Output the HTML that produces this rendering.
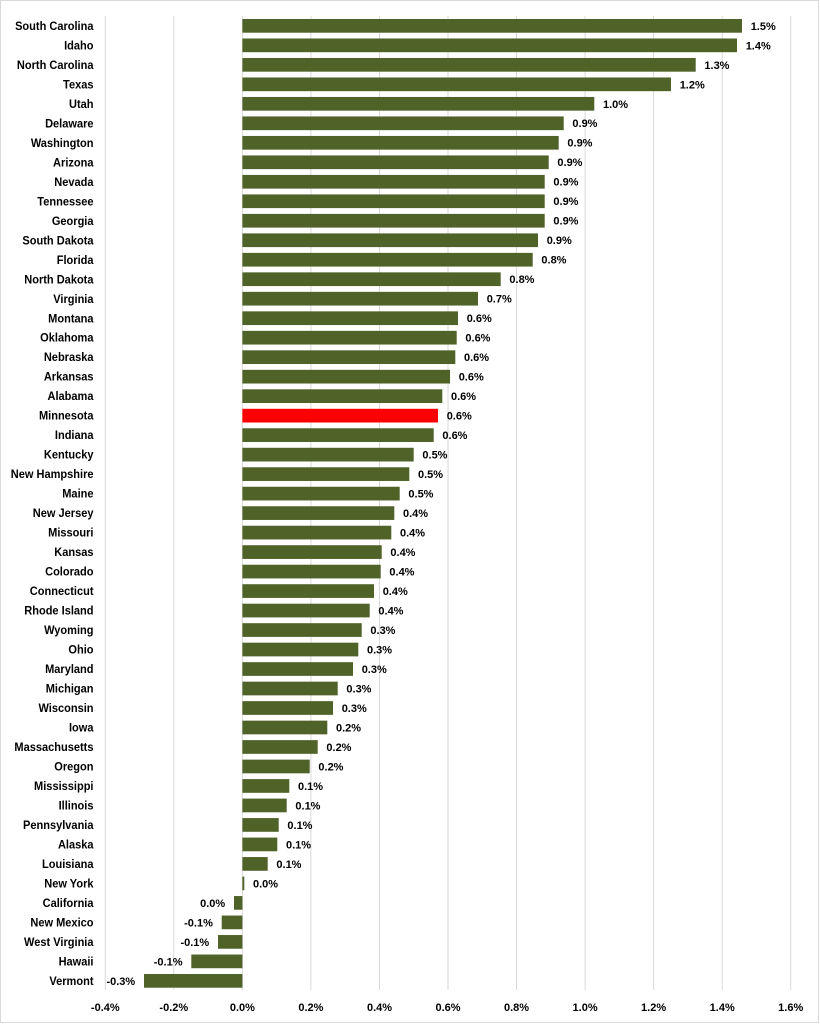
<!DOCTYPE html>
<html>
<head>
<meta charset="utf-8">
<style>
  html, body { margin: 0; padding: 0; background: #fff; }
  svg { display: block; }
  .c { font-family: "Liberation Sans", Arial, sans-serif; font-weight: bold; font-size: 12px; fill: #000; text-anchor: end; }
  .v { font-family: "Liberation Sans", Arial, sans-serif; font-weight: bold; font-size: 11px; fill: #000; }
  .n { text-anchor: end; }
  .ax { font-family: "Liberation Sans", Arial, sans-serif; font-weight: bold; font-size: 11px; fill: #000; text-anchor: middle; }
  .b { fill: #4F6228; }
  .r { fill: #FF0000; }
  .g { stroke: #d9d9d9; stroke-width: 1; }
</style>
</head>
<body>
<svg width="820" height="1024" viewBox="0 0 820 1024" xmlns="http://www.w3.org/2000/svg">
  <rect x="0" y="0" width="820" height="1024" fill="#fff"/>
  <rect x="0.5" y="0.5" width="818" height="1022" fill="none" stroke="#d9d9d9" stroke-width="1"/>

  <!-- gridlines -->
  <g class="g">
    <line x1="105.3" y1="16" x2="105.3" y2="990"/>
    <line x1="173.8" y1="16" x2="173.8" y2="990"/>
    <line x1="242.4" y1="16" x2="242.4" y2="990"/>
    <line x1="310.9" y1="16" x2="310.9" y2="990"/>
    <line x1="379.5" y1="16" x2="379.5" y2="990"/>
    <line x1="448" y1="16" x2="448" y2="990"/>
    <line x1="516.5" y1="16" x2="516.5" y2="990"/>
    <line x1="585.1" y1="16" x2="585.1" y2="990"/>
    <line x1="653.6" y1="16" x2="653.6" y2="990"/>
    <line x1="722.2" y1="16" x2="722.2" y2="990"/>
    <line x1="790.7" y1="16" x2="790.7" y2="990"/>
  </g>

  <!-- x axis labels -->
  <text class="ax" x="105.3" y="1011">-0.4%</text>
  <text class="ax" x="173.8" y="1011">-0.2%</text>
  <text class="ax" x="242.4" y="1011">0.0%</text>
  <text class="ax" x="310.9" y="1011">0.2%</text>
  <text class="ax" x="379.5" y="1011">0.4%</text>
  <text class="ax" x="448" y="1011">0.6%</text>
  <text class="ax" x="516.5" y="1011">0.8%</text>
  <text class="ax" x="585.1" y="1011">1.0%</text>
  <text class="ax" x="653.6" y="1011">1.2%</text>
  <text class="ax" x="722.2" y="1011">1.4%</text>
  <text class="ax" x="790.7" y="1011">1.6%</text>

  <!-- rows -->
  <g transform="translate(0,19)"><text class="c" transform="translate(93.5,10.9) scale(0.92,1)">South Carolina</text><rect class="b" x="242.4" y="0" width="499.6" height="13.7"/><text class="v" x="750.7" y="10.8">1.5%</text></g>
  <g transform="translate(0,38.49)"><text class="c" transform="translate(93.5,10.9) scale(0.92,1)">Idaho</text><rect class="b" x="242.4" y="0" width="494.6" height="13.7"/><text class="v" x="745.7" y="10.8">1.4%</text></g>
  <g transform="translate(0,57.98)"><text class="c" transform="translate(93.5,10.9) scale(0.92,1)">North Carolina</text><rect class="b" x="242.4" y="0" width="453.3" height="13.7"/><text class="v" x="704.4" y="10.8">1.3%</text></g>
  <g transform="translate(0,77.47)"><text class="c" transform="translate(93.5,10.9) scale(0.92,1)">Texas</text><rect class="b" x="242.4" y="0" width="428.6" height="13.7"/><text class="v" x="679.7" y="10.8">1.2%</text></g>
  <g transform="translate(0,96.96)"><text class="c" transform="translate(93.5,10.9) scale(0.92,1)">Utah</text><rect class="b" x="242.4" y="0" width="351.9" height="13.7"/><text class="v" x="603" y="10.8">1.0%</text></g>
  <g transform="translate(0,116.45)"><text class="c" transform="translate(93.5,10.9) scale(0.92,1)">Delaware</text><rect class="b" x="242.4" y="0" width="321.3" height="13.7"/><text class="v" x="572.4" y="10.8">0.9%</text></g>
  <g transform="translate(0,135.94)"><text class="c" transform="translate(93.5,10.9) scale(0.92,1)">Washington</text><rect class="b" x="242.4" y="0" width="316.3" height="13.7"/><text class="v" x="567.4" y="10.8">0.9%</text></g>
  <g transform="translate(0,155.43)"><text class="c" transform="translate(93.5,10.9) scale(0.92,1)">Arizona</text><rect class="b" x="242.4" y="0" width="306.3" height="13.7"/><text class="v" x="557.4" y="10.8">0.9%</text></g>
  <g transform="translate(0,174.92)"><text class="c" transform="translate(93.5,10.9) scale(0.92,1)">Nevada</text><rect class="b" x="242.4" y="0" width="302.3" height="13.7"/><text class="v" x="553.4" y="10.8">0.9%</text></g>
  <g transform="translate(0,194.41)"><text class="c" transform="translate(93.5,10.9) scale(0.92,1)">Tennessee</text><rect class="b" x="242.4" y="0" width="302.3" height="13.7"/><text class="v" x="553.4" y="10.8">0.9%</text></g>
  <g transform="translate(0,213.9)"><text class="c" transform="translate(93.5,10.9) scale(0.92,1)">Georgia</text><rect class="b" x="242.4" y="0" width="302.3" height="13.7"/><text class="v" x="553.4" y="10.8">0.9%</text></g>
  <g transform="translate(0,233.39)"><text class="c" transform="translate(93.5,10.9) scale(0.92,1)">South Dakota</text><rect class="b" x="242.4" y="0" width="295.6" height="13.7"/><text class="v" x="546.7" y="10.8">0.9%</text></g>
  <g transform="translate(0,252.88)"><text class="c" transform="translate(93.5,10.9) scale(0.92,1)">Florida</text><rect class="b" x="242.4" y="0" width="290.3" height="13.7"/><text class="v" x="541.4" y="10.8">0.8%</text></g>
  <g transform="translate(0,272.37)"><text class="c" transform="translate(93.5,10.9) scale(0.92,1)">North Dakota</text><rect class="b" x="242.4" y="0" width="258.3" height="13.7"/><text class="v" x="509.4" y="10.8">0.8%</text></g>
  <g transform="translate(0,291.86)"><text class="c" transform="translate(93.5,10.9) scale(0.92,1)">Virginia</text><rect class="b" x="242.4" y="0" width="235.6" height="13.7"/><text class="v" x="486.7" y="10.8">0.7%</text></g>
  <g transform="translate(0,311.35)"><text class="c" transform="translate(93.5,10.9) scale(0.92,1)">Montana</text><rect class="b" x="242.4" y="0" width="215.6" height="13.7"/><text class="v" x="466.7" y="10.8">0.6%</text></g>
  <g transform="translate(0,330.84)"><text class="c" transform="translate(93.5,10.9) scale(0.92,1)">Oklahoma</text><rect class="b" x="242.4" y="0" width="214.3" height="13.7"/><text class="v" x="465.4" y="10.8">0.6%</text></g>
  <g transform="translate(0,350.33)"><text class="c" transform="translate(93.5,10.9) scale(0.92,1)">Nebraska</text><rect class="b" x="242.4" y="0" width="212.9" height="13.7"/><text class="v" x="464" y="10.8">0.6%</text></g>
  <g transform="translate(0,369.82)"><text class="c" transform="translate(93.5,10.9) scale(0.92,1)">Arkansas</text><rect class="b" x="242.4" y="0" width="207.6" height="13.7"/><text class="v" x="458.7" y="10.8">0.6%</text></g>
  <g transform="translate(0,389.31)"><text class="c" transform="translate(93.5,10.9) scale(0.92,1)">Alabama</text><rect class="b" x="242.4" y="0" width="199.9" height="13.7"/><text class="v" x="451" y="10.8">0.6%</text></g>
  <g transform="translate(0,408.8)"><text class="c" transform="translate(93.5,10.9) scale(0.92,1)">Minnesota</text><rect class="r" x="242.4" y="0" width="195.6" height="13.7"/><text class="v" x="446.7" y="10.8">0.6%</text></g>
  <g transform="translate(0,428.29)"><text class="c" transform="translate(93.5,10.9) scale(0.92,1)">Indiana</text><rect class="b" x="242.4" y="0" width="191.3" height="13.7"/><text class="v" x="442.4" y="10.8">0.6%</text></g>
  <g transform="translate(0,447.78)"><text class="c" transform="translate(93.5,10.9) scale(0.92,1)">Kentucky</text><rect class="b" x="242.4" y="0" width="171.3" height="13.7"/><text class="v" x="422.4" y="10.8">0.5%</text></g>
  <g transform="translate(0,467.27)"><text class="c" transform="translate(93.5,10.9) scale(0.92,1)">New Hampshire</text><rect class="b" x="242.4" y="0" width="166.9" height="13.7"/><text class="v" x="418" y="10.8">0.5%</text></g>
  <g transform="translate(0,486.76)"><text class="c" transform="translate(93.5,10.9) scale(0.92,1)">Maine</text><rect class="b" x="242.4" y="0" width="157.3" height="13.7"/><text class="v" x="408.4" y="10.8">0.5%</text></g>
  <g transform="translate(0,506.25)"><text class="c" transform="translate(93.5,10.9) scale(0.92,1)">New Jersey</text><rect class="b" x="242.4" y="0" width="151.9" height="13.7"/><text class="v" x="403" y="10.8">0.4%</text></g>
  <g transform="translate(0,525.74)"><text class="c" transform="translate(93.5,10.9) scale(0.92,1)">Missouri</text><rect class="b" x="242.4" y="0" width="148.9" height="13.7"/><text class="v" x="400" y="10.8">0.4%</text></g>
  <g transform="translate(0,545.23)"><text class="c" transform="translate(93.5,10.9) scale(0.92,1)">Kansas</text><rect class="b" x="242.4" y="0" width="139.3" height="13.7"/><text class="v" x="390.4" y="10.8">0.4%</text></g>
  <g transform="translate(0,564.72)"><text class="c" transform="translate(93.5,10.9) scale(0.92,1)">Colorado</text><rect class="b" x="242.4" y="0" width="138.3" height="13.7"/><text class="v" x="389.4" y="10.8">0.4%</text></g>
  <g transform="translate(0,584.21)"><text class="c" transform="translate(93.5,10.9) scale(0.92,1)">Connecticut</text><rect class="b" x="242.4" y="0" width="131.6" height="13.7"/><text class="v" x="382.7" y="10.8">0.4%</text></g>
  <g transform="translate(0,603.7)"><text class="c" transform="translate(93.5,10.9) scale(0.92,1)">Rhode Island</text><rect class="b" x="242.4" y="0" width="127.3" height="13.7"/><text class="v" x="378.4" y="10.8">0.4%</text></g>
  <g transform="translate(0,623.19)"><text class="c" transform="translate(93.5,10.9) scale(0.92,1)">Wyoming</text><rect class="b" x="242.4" y="0" width="119.3" height="13.7"/><text class="v" x="370.4" y="10.8">0.3%</text></g>
  <g transform="translate(0,642.68)"><text class="c" transform="translate(93.5,10.9) scale(0.92,1)">Ohio</text><rect class="b" x="242.4" y="0" width="115.9" height="13.7"/><text class="v" x="367" y="10.8">0.3%</text></g>
  <g transform="translate(0,662.17)"><text class="c" transform="translate(93.5,10.9) scale(0.92,1)">Maryland</text><rect class="b" x="242.4" y="0" width="110.6" height="13.7"/><text class="v" x="361.7" y="10.8">0.3%</text></g>
  <g transform="translate(0,681.66)"><text class="c" transform="translate(93.5,10.9) scale(0.92,1)">Michigan</text><rect class="b" x="242.4" y="0" width="95.3" height="13.7"/><text class="v" x="346.4" y="10.8">0.3%</text></g>
  <g transform="translate(0,701.15)"><text class="c" transform="translate(93.5,10.9) scale(0.92,1)">Wisconsin</text><rect class="b" x="242.4" y="0" width="90.6" height="13.7"/><text class="v" x="341.7" y="10.8">0.3%</text></g>
  <g transform="translate(0,720.64)"><text class="c" transform="translate(93.5,10.9) scale(0.92,1)">Iowa</text><rect class="b" x="242.4" y="0" width="84.9" height="13.7"/><text class="v" x="336" y="10.8">0.2%</text></g>
  <g transform="translate(0,740.13)"><text class="c" transform="translate(93.5,10.9) scale(0.92,1)">Massachusetts</text><rect class="b" x="242.4" y="0" width="75.3" height="13.7"/><text class="v" x="326.4" y="10.8">0.2%</text></g>
  <g transform="translate(0,759.62)"><text class="c" transform="translate(93.5,10.9) scale(0.92,1)">Oregon</text><rect class="b" x="242.4" y="0" width="67.3" height="13.7"/><text class="v" x="318.4" y="10.8">0.2%</text></g>
  <g transform="translate(0,779.11)"><text class="c" transform="translate(93.5,10.9) scale(0.92,1)">Mississippi</text><rect class="b" x="242.4" y="0" width="46.9" height="13.7"/><text class="v" x="298" y="10.8">0.1%</text></g>
  <g transform="translate(0,798.6)"><text class="c" transform="translate(93.5,10.9) scale(0.92,1)">Illinois</text><rect class="b" x="242.4" y="0" width="44.3" height="13.7"/><text class="v" x="295.4" y="10.8">0.1%</text></g>
  <g transform="translate(0,818.09)"><text class="c" transform="translate(93.5,10.9) scale(0.92,1)">Pennsylvania</text><rect class="b" x="242.4" y="0" width="36.3" height="13.7"/><text class="v" x="287.4" y="10.8">0.1%</text></g>
  <g transform="translate(0,837.58)"><text class="c" transform="translate(93.5,10.9) scale(0.92,1)">Alaska</text><rect class="b" x="242.4" y="0" width="34.9" height="13.7"/><text class="v" x="286" y="10.8">0.1%</text></g>
  <g transform="translate(0,857.07)"><text class="c" transform="translate(93.5,10.9) scale(0.92,1)">Louisiana</text><rect class="b" x="242.4" y="0" width="25.3" height="13.7"/><text class="v" x="276.4" y="10.8">0.1%</text></g>
  <g transform="translate(0,876.56)"><text class="c" transform="translate(93.5,10.9) scale(0.92,1)">New York</text><rect class="b" x="242.4" y="0" width="1.9" height="13.7"/><text class="v" x="253" y="10.8">0.0%</text></g>
  <g transform="translate(0,896.05)"><text class="c" transform="translate(93.5,10.9) scale(0.92,1)">California</text><rect class="b" x="234" y="0" width="8.4" height="13.7"/><text class="v n" x="225.2" y="10.8">0.0%</text></g>
  <g transform="translate(0,915.54)"><text class="c" transform="translate(93.5,10.9) scale(0.92,1)">New Mexico</text><rect class="b" x="221.7" y="0" width="20.7" height="13.7"/><text class="v n" x="212.9" y="10.8">-0.1%</text></g>
  <g transform="translate(0,935.03)"><text class="c" transform="translate(93.5,10.9) scale(0.92,1)">West Virginia</text><rect class="b" x="218" y="0" width="24.4" height="13.7"/><text class="v n" x="209.2" y="10.8">-0.1%</text></g>
  <g transform="translate(0,954.52)"><text class="c" transform="translate(93.5,10.9) scale(0.92,1)">Hawaii</text><rect class="b" x="191.3" y="0" width="51.1" height="13.7"/><text class="v n" x="182.5" y="10.8">-0.1%</text></g>
  <g transform="translate(0,974.01)"><text class="c" transform="translate(93.5,10.9) scale(0.92,1)">Vermont</text><rect class="b" x="144" y="0" width="98.4" height="13.7"/><text class="v n" x="135.2" y="10.8">-0.3%</text></g>
</svg>
</body>
</html>
